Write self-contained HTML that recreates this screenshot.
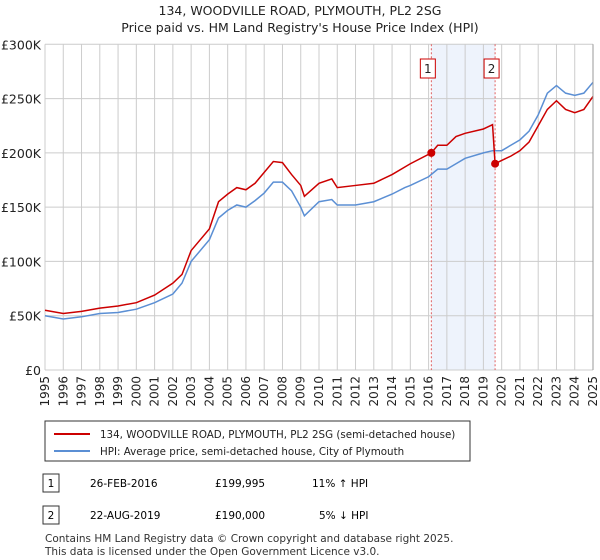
<!DOCTYPE html>
<html><head><meta charset="utf-8"><style>
body{margin:0;width:600px;height:560px;background:#fff;font-family:"DejaVu Sans","Liberation Sans",sans-serif;overflow:hidden}
svg{position:absolute;left:0;top:0}
</style></head><body>
<svg width="600" height="560" id="c">
<text x="300" y="15" text-anchor="middle" font-size="12.5" fill="#222">134, WOODVILLE ROAD, PLYMOUTH, PL2 2SG</text>
<text x="300" y="32" text-anchor="middle" font-size="12.5" fill="#222">Price paid vs. HM Land Registry's House Price Index (HPI)</text>
<g id="grid"></g><g id="series"></g><g id="axes"></g>
<rect x="45" y="421" width="425" height="40" fill="#fff" stroke="#333"/>
<line x1="54" y1="434" x2="90" y2="434" stroke="#cc0000" stroke-width="2"/>
<text x="100" y="438" font-size="10.3" fill="#222">134, WOODVILLE ROAD, PLYMOUTH, PL2 2SG (semi-detached house)</text>
<line x1="54" y1="451" x2="90" y2="451" stroke="#5b8fd4" stroke-width="2"/>
<text x="100" y="455" font-size="10.3" fill="#222">HPI: Average price, semi-detached house, City of Plymouth</text>
<rect x="43" y="474" width="16" height="18" fill="#fff" stroke="#333"/>
<text x="51" y="487" text-anchor="middle" font-size="10.5">1</text>
<text x="90" y="487" font-size="10.5">26-FEB-2016</text>
<text x="215" y="487" font-size="10.5">£199,995</text>
<text x="312" y="487" font-size="10.5">11% ↑ HPI</text>
<rect x="43" y="506" width="16" height="18" fill="#fff" stroke="#333"/>
<text x="51" y="519" text-anchor="middle" font-size="10.5">2</text>
<text x="90" y="519" font-size="10.5">22-AUG-2019</text>
<text x="215" y="519" font-size="10.5">£190,000</text>
<text x="319" y="519" font-size="10.5">5% ↓ HPI</text>
<text x="45" y="542" font-size="10.5" fill="#333">Contains HM Land Registry data © Crown copyright and database right 2025.</text>
<text x="45" y="555" font-size="10.5" fill="#333">This data is licensed under the Open Government Licence v3.0.</text>
</svg>
<script>
const hpiYears=[1995,1996,1997,1998,1999,2000,2001,2002,2002.5,2003,2004,2004.5,2005,2005.5,2006,2006.5,2007,2007.5,2008,2008.5,2009,2009.2,2010,2010.7,2011,2012,2013,2014,2014.7,2015,2016,2016.5,2017,2017.5,2018,2019,2019.5,2020,2020.5,2021,2021.5,2022,2022.5,2023,2023.5,2024,2024.5,2025];
const hpiValues=[50,47,49,52,53,56,62,70,80,100,120,140,147,152,150,156,163,173,173,165,150,142,155,157,152,152,155,162,168,170,178,185,185,190,195,200,202,202,207,212,220,235,255,262,255,253,255,265];
const propYears=[1995,1996,1997,1998,1999,2000,2001,2002,2002.5,2003,2004,2004.5,2005,2005.5,2006,2006.5,2007,2007.5,2008,2008.5,2009,2009.2,2010,2010.7,2011,2012,2013,2014,2014.7,2015,2016.15,2016.5,2017,2017.5,2018,2019,2019.5,2019.64,2020,2020.5,2021,2021.5,2022,2022.5,2023,2023.5,2024,2024.5,2025];
const propValues=[55,52,54,57,59,62,69,80,88,110,130,155,162,168,166,172,182,192,191,180,170,160,172,176,168,170,172,180,187,190,200,207,207,215,218,222,226,190,193,197,202,210,225,240,248,240,237,240,252];
const saleYears=[2016.15,2019.64];
const saleValues=[199.995,190];
const saleLabels=["1","2"];
const yTicks=[0,50,100,150,200,250,300];
const yTickLabels=["£0","£50K","£100K","£150K","£200K","£250K","£300K"];
const xTicks=[];for(let y=1995;y<=2025;y++)xTicks.push(y);
const NS="http://www.w3.org/2000/svg";
const X=y=>45+(y-1995)*(548/30);
const Y=v=>370-v*(325.7/300);
function mk(t,a,p){const e=document.createElementNS(NS,t);for(const k in a)e.setAttribute(k,a[k]);p.appendChild(e);return e;}
const grid=document.getElementById('grid'),ser=document.getElementById('series'),ax=document.getElementById('axes');
let sh=mk('rect',{x:X(saleYears[0]),y:Y(300),width:X(saleYears[1])-X(saleYears[0]),height:Y(0)-Y(300),fill:'#eef3fc'},grid);


xTicks.forEach(y=>{let l=mk('line',{x1:X(y),x2:X(y),y1:Y(300),y2:Y(0),stroke:'#ccc'},grid);


let t=mk('text',{x:0,y:0,'font-size':12,fill:'#222','text-anchor':'end',transform:`translate(${X(y)+4},376) rotate(-90)`},ax);t.textContent=y;

});
yTicks.forEach((v,i)=>{let l=mk('line',{x1:45,x2:593,y1:Y(v),y2:Y(v),stroke:'#ccc'},grid);


let t=mk('text',{x:41,y:Y(v)+5,'font-size':12.5,fill:'#222','text-anchor':'end'},ax);t.textContent=yTickLabels[i];

});
saleYears.forEach((y,i)=>{let l=mk('line',{x1:X(y),x2:X(y),y1:Y(300),y2:Y(0),stroke:'#e06060','stroke-dasharray':'2,2'},grid);


let b=mk('rect',{x:X(y)-11,y:59,width:15,height:19,fill:'#fff',stroke:'#cc0000'},ax);


let t=mk('text',{x:X(y)-3.5,y:73,'font-size':12,'text-anchor':'middle',fill:'#222'},ax);t.textContent=saleLabels[i];

});
let hp=mk('polyline',{points:hpiYears.map((y,i)=>X(y)+','+Y(hpiValues[i])).join(' '),fill:'none',stroke:'#5b8fd4','stroke-width':1.5},ser);


let pp=mk('polyline',{points:propYears.map((y,i)=>X(y)+','+Y(propValues[i])).join(' '),fill:'none',stroke:'#cc0000','stroke-width':1.5},ser);


saleYears.forEach((y,i)=>{let c=mk('circle',{cx:X(y),cy:Y(saleValues[i]),r:4,fill:'#cc0000'},ser);

});
let rb=mk('line',{x1:593,x2:593,y1:Y(300),y2:Y(0),stroke:'#999'},ax);


</script>
</body></html>
